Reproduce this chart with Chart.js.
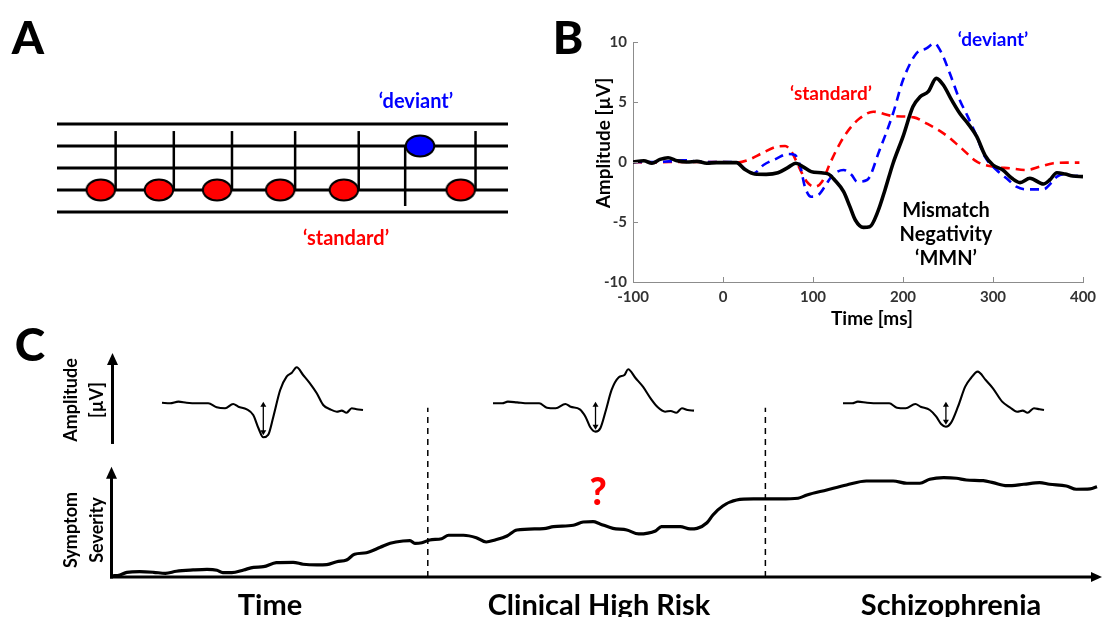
<!DOCTYPE html>
<html>
<head>
<meta charset="utf-8">
<script src="https://cdn.jsdelivr.net/npm/chart.js@4.4.0/dist/chart.umd.min.js"></script>
<style>
  html, body { margin: 0; padding: 0; background: #fff; }
  #fig { position: relative; width: 1104px; height: 617px; overflow: hidden; font-family: Lato, "Open Sans", sans-serif; font-weight: 700; color: #000; }
  #fig canvas { position: absolute; }
  .lbl { position: absolute; white-space: nowrap; line-height: 1; transform: translate(-50%, -50%); }
  .rot { transform: translate(-50%, -50%) rotate(-90deg); text-align: center; }
</style>
</head>
<body>
<div id="fig">
  <canvas id="chartA" width="540" height="300" style="left:0;top:0"></canvas>
  <canvas id="chartB" width="564" height="330" style="left:540px;top:0"></canvas>
  <canvas id="chartC" width="1104" height="287" style="left:0;top:330px"></canvas>

  <div class="lbl" style="left:28px;top:37px;font-size:46px;font-weight:900">A</div>
  <div class="lbl" style="left:416px;top:100px;font-size:20px;color:#0000ff">‘deviant’</div>
  <div class="lbl" style="left:346px;top:237px;font-size:20px;color:#ff0000">‘standard’</div>

  <div class="lbl" style="left:568px;top:37px;font-size:46px;font-weight:900">B</div>
  <div class="lbl rot" style="left:602px;top:143px;font-size:19px">Amplitude [µV]</div>
  <div class="lbl" style="left:872px;top:317px;font-size:19px">Time [ms]</div>
  <div class="lbl" style="left:993px;top:38px;font-size:19px;color:#0000ff">‘deviant’</div>
  <div class="lbl" style="left:831px;top:92px;font-size:19px;color:#ff0000">‘standard’</div>
  <div class="lbl" style="left:946px;top:233px;font-size:20px;line-height:24px;text-align:center">Mismatch<br>Negativity<br>‘MMN’</div>

  <div class="lbl" style="left:30px;top:344px;font-size:46px;font-weight:900">C</div>
  <div class="lbl rot" style="left:83px;top:400px;font-size:18px;line-height:26px">Amplitude<br>[µV]</div>
  <div class="lbl rot" style="left:83px;top:530px;font-size:18px;line-height:26px">Symptom<br>Severity</div>
  <div class="lbl" style="left:598px;top:490px;font-size:37px;font-weight:900;color:#ff0000">?</div>
  <div class="lbl" style="left:270px;top:603px;font-size:29px">Time</div>
  <div class="lbl" style="left:599px;top:603px;font-size:29px">Clinical High Risk</div>
  <div class="lbl" style="left:951px;top:603px;font-size:29px">Schizophrenia</div>
</div>
<script>
// ---- panel A: oddball sequence on a staff (beats along x, staff line along y)
const staffLines = [1, 2, 3, 4, 5];
const standardBeats = [0.97, 2.26, 3.55, 4.95, 6.36, 8.95];
const standardLine = 2;
const deviantBeats = [8.05];
const deviantLine = 4;

// ---- panel B: grand average ERPs (ms, µV)
const mmnTime = [-100, -88, -79, -70, -61, -51, -40, -29, -18, -7, 4, 15, 24, 35, 48, 61, 72, 81, 89, 98,
  109, 117, 124, 134, 141, 147, 156, 163, 172, 180, 189, 200, 211, 219, 228, 237, 245, 254, 263, 272,
  282, 291, 300, 311, 321, 330, 341, 356, 363, 371, 380, 389, 400];
const mmnAmp = [0, 0.1, -0.1, 0.22, 0.36, 0.1, 0, 0.05, -0.1, -0.05, -0.05, -0.05, -0.6, -1.0, -1.03, -0.9, -0.47, -0.1, -0.4, -0.8,
  -0.9, -1.0, -1.5, -2.47, -3.72, -4.83, -5.45, -5.4, -4.14, -2.33, -0.1, 2.11, 4.6, 5.44, 5.86, 6.97, 6.4, 5.17, 4.06, 3.22,
  2.11, 0.58, -0.25, -0.67, -1.36, -1.72, -1.36, -1.83, -1.5, -0.89, -1.0, -1.17, -1.22];
const devTime = [-100, -80, -60, -45, -35, -20, 0, 15, 26, 34, 45, 60, 72, 80, 86, 91, 98, 106, 113, 122,
  134, 143, 149, 160, 174, 189, 200, 215, 226, 235, 243, 252, 263, 272, 282, 291, 304, 315, 326, 337,
  356, 365, 371, 380, 389, 400];
const devAmp = [0, 0, 0.05, 0.15, 0.1, 0, 0, -0.05, -0.67, -0.94, -0.25, 0.3, 0.67, 0.58, -0.39, -2.06, -2.89, -2.75, -2.06, -1.08,
  -0.67, -1.08, -1.64, -1.5, 1.0, 4.06, 6.83, 9.06, 9.47, 9.89, 9.06, 7.39, 5.17, 3.78, 2.11, 0.44, -0.67, -1.36, -2.06, -2.28,
  -2.28, -1.72, -1.22, -1.0, -1.17, -1.1];
const stdTime = [-100, -80, -60, -40, -20, 0, 15, 28, 45, 60, 69, 76, 86, 93, 102, 110, 119, 130, 141, 152,
  167, 189, 212, 226, 245, 263, 282, 300, 319, 337, 352, 367, 382, 396];
const stdAmp = [0, -0.05, 0, 0, 0, 0, -0.05, 0.17, 0.8, 1.28, 1.33, 0.86, -0.67, -1.64, -2.06, -1.64, -0.1, 1.56, 2.8, 3.64,
  4.19, 3.83, 3.72, 3.22, 2.39, 1.28, 0.03, -0.39, -0.53, -0.67, -0.39, -0.1, -0.05, -0.05];

// ---- panel C: MMN sketches per stage (ms, µV) and symptom course (time %, severity)
const wave1Time = [-100, -80, -59, -39, -14, 15, 36, 57, 77, 90, 111, 127, 140, 152, 164, 177, 194, 210, 223, 235,
  251, 268, 285, 301, 318, 335, 347, 359, 372, 384, 400];
const wave1Amp = [0.05, -0.05, 0.22, 0.05, -0.05, -0.05, -0.72, -0.88, -0.17, -0.62, -1.05, -2.0, -4.22, -5.72, -5.33, -2.28, 2.17, 4.38, 5.05, 5.95,
  4.67, 3.28, 1.62, -0.33, -1.05, -1.45, -1.28, -1.62, -0.88, -1.05, -1.17];
const wave2Time = [-100, -77, -63, -40, -13, 15, 34, 56, 80, 93, 116, 130, 142, 155, 167, 181, 195, 213, 227, 236,
  255, 273, 292, 310, 328, 342, 356, 370, 384, 400];
const wave2Amp = [-0.05, -0.05, 0.22, 0.1, -0.05, -0.05, -0.78, -0.88, -0.17, -0.62, -1.05, -2.28, -4.05, -4.78, -4.22, -1.17, 2.17, 4.28, 4.67, 5.62,
  4.12, 2.72, 0.78, -0.72, -1.45, -1.33, -1.62, -0.88, -1.17, -1.28];
const wave3Time = [-100, -77, -63, -40, -13, 15, 34, 56, 80, 93, 116, 132, 144, 156, 169, 186, 204, 218, 235, 255,
  273, 296, 315, 333, 347, 359, 375, 389, 400];
const wave3Amp = [-0.05, -0.05, 0.22, 0.05, -0.05, -0.05, -0.78, -0.88, -0.17, -0.62, -1.17, -2.28, -3.5, -3.95, -3.28, -0.62, 2.72, 4.12, 5.22, 3.83,
  2.45, 0.22, -0.72, -1.45, -1.28, -1.62, -0.88, -1.05, -1.17];
const sevTime = [0.2, 1.0, 1.7, 3.0, 4.4, 5.6, 6.7, 8.4, 9.8, 10.8, 11.4, 12.3, 13.5, 14.5, 15.5, 16.8, 18.5, 19.5, 20.9, 21.9,
  22.9, 23.9, 24.7, 25.9, 27.3, 28.3, 29.6, 30.3, 30.8, 31.5, 32.3, 33.5, 34.2, 35.7, 37.0, 38.0, 38.9, 40.1, 41.1, 43.8,
  44.8, 46.8, 47.8, 48.8, 49.5, 50.8, 52.2, 53.4, 55.1, 55.7, 57.6, 58.6, 59.3, 60.3, 60.9, 61.9, 63.3, 65.0, 67.7, 69.5,
  70.4, 72.4, 74.4, 76.4, 79.1, 80.5, 81.8, 82.8, 84.2, 85.5, 86.5, 88.2, 89.2, 90.6, 92.3, 93.9, 94.9, 96.6, 97.6, 99.0, 99.7];
const sevLevel = [0.1, 0.2, 0.46, 0.52, 0.46, 0.36, 0.56, 0.69, 0.75, 0.66, 0.42, 0.42, 0.69, 0.95, 1.01, 1.40, 1.44, 1.25, 1.18, 1.21,
  1.50, 1.67, 2.23, 2.38, 2.91, 3.30, 3.53, 3.56, 3.30, 3.36, 3.63, 3.75, 4.09, 4.09, 3.85, 3.43, 3.63, 4.02, 4.61, 4.74,
  4.93, 5.07, 5.39, 5.42, 5.20, 4.77, 4.61, 4.22, 4.51, 4.93, 4.93, 4.71, 4.77, 5.32, 6.08, 6.96, 7.55, 7.65, 7.65, 7.72,
  8.04, 8.53, 9.02, 9.41, 9.41, 9.19, 9.19, 9.58, 9.74, 9.68, 9.51, 9.44, 9.25, 8.95, 9.09, 9.25, 9.09, 8.92, 8.60, 8.63, 8.85];
const stageBounds = [32.1, 66.2];

const xTicksB = [-100, 0, 100, 200, 300, 400];
const yTicksB = [-10, -5, 0, 5, 10];

const pts = (xs, ys) => xs.map((x, i) => ({ x: x, y: ys[i] }));
const tickFont = { family: 'Lato', size: 15, weight: 'bold' };

// ---------- A
const noteImage = (fill) => {
  const c = document.createElement('canvas');
  c.width = 36; c.height = 28;
  const g = c.getContext('2d');
  g.beginPath();
  g.ellipse(18, 14, 14.2, 10.4, 0, 0, Math.PI * 2);
  g.fillStyle = fill; g.fill();
  g.lineWidth = 2; g.strokeStyle = '#000'; g.stroke();
  return c;
};
const stemDx = 0.33;   // half a note head, in beats
const stemUp = 4.68, stemDown = 1.27;

const dsA = [];
dsA.push({ data: standardBeats.map(b => ({ x: b, y: standardLine })), showLine: false,
  pointStyle: noteImage('#ff0000'), pointRadius: 12, clip: false });
dsA.push({ data: deviantBeats.map(b => ({ x: b, y: deviantLine })), showLine: false,
  pointStyle: noteImage('#0000ff'), pointRadius: 12, clip: false });
standardBeats.forEach(b => dsA.push({ data: [{ x: b + stemDx, y: standardLine }, { x: b + stemDx, y: stemUp }],
  borderColor: '#000', borderWidth: 2.5, pointRadius: 0, clip: false }));
deviantBeats.forEach(b => dsA.push({ data: [{ x: b - stemDx, y: deviantLine }, { x: b - stemDx, y: stemDown }],
  borderColor: '#000', borderWidth: 2.5, pointRadius: 0, clip: false }));
staffLines.forEach(l => dsA.push({ data: [{ x: 0, y: l }, { x: 10, y: l }],
  borderColor: '#000', borderWidth: 3, pointRadius: 0, clip: false }));

new Chart(document.getElementById('chartA'), {
  type: 'line',
  data: { datasets: dsA },
  options: {
    responsive: false, animation: false,
    layout: { padding: { left: 57, right: 32, top: 102, bottom: 66 } },
    plugins: { legend: { display: false }, tooltip: { enabled: false } },
    scales: {
      x: { type: 'linear', min: 0, max: 10, display: false },
      y: { type: 'linear', min: 0, max: 6, display: false }
    }
  }
});

// ---------- B
const inwardTicks = {
  id: 'inwardTicks',
  afterDraw(chart) {
    const { ctx, chartArea: a, scales: { x, y } } = chart;
    ctx.save();
    ctx.strokeStyle = '#8c8c8c';
    ctx.lineWidth = 1;
    x.ticks.forEach(t => {
      const px = Math.round(x.getPixelForValue(t.value)) + 0.5;
      ctx.beginPath(); ctx.moveTo(px, a.bottom); ctx.lineTo(px, a.bottom - 5); ctx.stroke();
    });
    y.ticks.forEach(t => {
      const py = Math.round(y.getPixelForValue(t.value)) + 0.5;
      ctx.beginPath(); ctx.moveTo(a.left, py); ctx.lineTo(a.left + 5, py); ctx.stroke();
    });
    ctx.restore();
  }
};

new Chart(document.getElementById('chartB'), {
  type: 'line',
  data: {
    datasets: [
      { label: 'MMN', data: pts(mmnTime, mmnAmp), borderColor: '#000', borderWidth: 3.6,
        pointRadius: 0, cubicInterpolationMode: 'monotone' },
      { label: 'deviant', data: pts(devTime, devAmp), borderColor: '#0000ff', borderWidth: 2.6,
        borderDash: [9, 6], pointRadius: 0, cubicInterpolationMode: 'monotone' },
      { label: 'standard', data: pts(stdTime, stdAmp), borderColor: '#ff0000', borderWidth: 2.6,
        borderDash: [9, 6], pointRadius: 0, cubicInterpolationMode: 'monotone' }
    ]
  },
  options: {
    responsive: false, animation: false,
    layout: { padding: { left: 0, right: 21, top: 42, bottom: 0 } },
    plugins: { legend: { display: false }, tooltip: { enabled: false } },
    scales: {
      x: {
        type: 'linear', min: xTicksB[0], max: xTicksB[xTicksB.length - 1],
        afterBuildTicks: s => { s.ticks = xTicksB.map(v => ({ value: v })); },
        grid: { display: false, drawTicks: false },
        border: { display: true, color: '#8c8c8c', width: 1 },
        ticks: { color: '#333', font: tickFont, padding: 6, maxRotation: 0 },
        afterFit: s => { s.height = 48; }
      },
      y: {
        type: 'linear', min: yTicksB[0], max: yTicksB[yTicksB.length - 1],
        afterBuildTicks: s => { s.ticks = yTicksB.map(v => ({ value: v })); },
        grid: { display: false, drawTicks: false },
        border: { display: true, color: '#8c8c8c', width: 1 },
        ticks: { color: '#333', font: tickFont, padding: 6 },
        afterFit: s => { s.width = 93; }
      }
    }
  },
  plugins: [inwardTicks]
});

// ---------- C
const areaLeft = 110, areaRight = 1100;
const waveSlots = [[162, 363], [493, 694], [843, 1044]];   // where each sketch sits (page px)
const slotScale = ([p0, p1]) => {
  const msPerPx = 500 / (p1 - p0);
  return { type: 'linear', display: false,
    min: -100 - (p0 - areaLeft) * msPerPx, max: 400 + (areaRight - p1) * msPerPx };
};
const sevAxisTop = 10.8, ampAxisTop = 8.33, ampAxisBottom = -6.83, boundTop = 16.6;
const waves = [[wave1Time, wave1Amp], [wave2Time, wave2Amp], [wave3Time, wave3Amp]];

const arrowHead = (ctx, x0, y0, x1, y1, len, half) => {
  const ang = Math.atan2(y1 - y0, x1 - x0);
  ctx.beginPath();
  ctx.moveTo(x1, y1);
  ctx.lineTo(x1 - len * Math.cos(ang) + half * Math.sin(ang), y1 - len * Math.sin(ang) - half * Math.cos(ang));
  ctx.lineTo(x1 - len * Math.cos(ang) - half * Math.sin(ang), y1 - len * Math.sin(ang) + half * Math.cos(ang));
  ctx.closePath();
  ctx.fill();
};

const arrowAxes = {
  id: 'arrowAxes',
  afterDatasetsDraw(chart) {
    const { ctx, chartArea: a, scales } = chart;
    ctx.save();
    ctx.strokeStyle = '#000'; ctx.fillStyle = '#000';
    ctx.lineWidth = 3;
    const ax = a.left + 1.5;
    // time axis
    ctx.beginPath(); ctx.moveTo(a.left, a.bottom); ctx.lineTo(a.right - 6, a.bottom); ctx.stroke();
    arrowHead(ctx, a.left, a.bottom, a.right + 2, a.bottom, 11, 5);
    // severity axis
    const sTop = scales.ySev.getPixelForValue(sevAxisTop);
    ctx.beginPath(); ctx.moveTo(ax, a.bottom + 1.5); ctx.lineTo(ax, sTop + 6); ctx.stroke();
    arrowHead(ctx, ax, a.bottom, ax, sTop, 12, 5.5);
    // amplitude axis
    const aTop = scales.yAmp.getPixelForValue(ampAxisTop);
    const aBot = scales.yAmp.getPixelForValue(ampAxisBottom);
    ctx.beginPath(); ctx.moveTo(ax + 1, aBot); ctx.lineTo(ax + 1, aTop + 6); ctx.stroke();
    arrowHead(ctx, ax + 1, aBot, ax + 1, aTop, 12, 5.5);
    // MMN amplitude marker at each trough
    ctx.lineWidth = 1.3;
    waves.forEach(([t, v], i) => {
      let k = 0;
      v.forEach((val, j) => { if (val < v[k]) k = j; });
      const xs = scales['w' + (i + 1)];
      const px = xs.getPixelForValue(t[k]);
      const y0 = scales.yAmp.getPixelForValue(0.2);
      const y1 = scales.yAmp.getPixelForValue(v[k]) - 2;
      ctx.beginPath(); ctx.moveTo(px, y0 + 3); ctx.lineTo(px, y1 - 3); ctx.stroke();
      arrowHead(ctx, px, y1, px, y0, 5, 3);
      arrowHead(ctx, px, y0, px, y1, 5, 3);
    });
    ctx.restore();
  }
};

const dsC = [
  { data: pts(sevTime, sevLevel), xAxisID: 'x', yAxisID: 'ySev', borderColor: '#000', borderWidth: 3.2,
    pointRadius: 0, cubicInterpolationMode: 'monotone' }
];
waves.forEach(([t, v], i) => dsC.push({ data: pts(t, v), xAxisID: 'w' + (i + 1), yAxisID: 'yAmp',
  borderColor: '#000', borderWidth: 2.1, pointRadius: 0, cubicInterpolationMode: 'monotone' }));
stageBounds.forEach(b => dsC.push({ data: [{ x: b, y: 0 }, { x: b, y: boundTop }], xAxisID: 'x', yAxisID: 'ySev',
  borderColor: '#000', borderWidth: 1.5, borderDash: [6, 5], pointRadius: 0 }));

new Chart(document.getElementById('chartC'), {
  type: 'line',
  data: { datasets: dsC },
  options: {
    responsive: false, animation: false,
    layout: { padding: { left: areaLeft, right: 1104 - areaRight, top: 20, bottom: 40 } },
    plugins: { legend: { display: false }, tooltip: { enabled: false } },
    scales: {
      x: { type: 'linear', min: 0, max: 100, display: false },
      ySev: { type: 'linear', min: 0, max: 22.25, display: false },
      yAmp: { type: 'linear', min: -29, max: 8.83, display: false },
      w1: slotScale(waveSlots[0]),
      w2: slotScale(waveSlots[1]),
      w3: slotScale(waveSlots[2])
    }
  },
  plugins: [arrowAxes]
});
</script>
</body>
</html>
